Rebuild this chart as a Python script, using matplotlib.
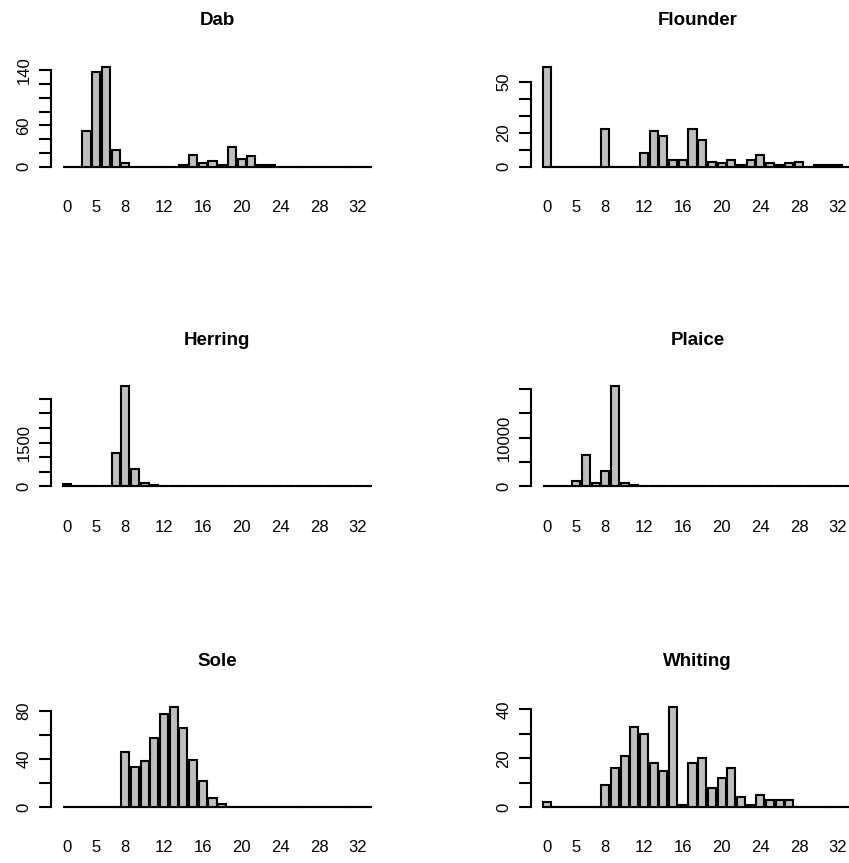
import matplotlib
matplotlib.use("Agg")
import matplotlib.pyplot as plt
import numpy as np

plt.rcParams['font.family'] = ['Liberation Sans', 'DejaVu Sans']

# length classes (bar names)
categories = [0, 3, 4, 5, 6, 7, 8, 9, 10, 11, 12, 13, 14, 15, 16, 17, 18, 19,
              20, 21, 22, 23, 24, 25, 26, 27, 28, 29, 30, 31, 32, 33]
shown_xlabels = [0, 5, 8, 12, 16, 20, 24, 28, 32]

species = ['Dab', 'Flounder', 'Herring', 'Plaice', 'Sole', 'Whiting']

dab = [0, 0, 52, 137, 145, 25, 6, 0, 0, 0, 0, 0, 2, 17, 5, 9, 3, 28, 11, 16,
       2, 2, 0, 0, 0, 0, 0, 0, 0, 0, 0, 0]
flounder = [59, 0, 0, 0, 0, 0, 22, 0, 0, 0, 8, 21, 18, 4, 4, 22, 16, 3, 2, 4,
            1, 4, 7, 2, 1, 2, 3, 0, 1, 1, 1, 0]
herring = [70, 0, 0, 0, 0, 1160, 3420, 590, 125, 50, 0, 0, 0, 0, 0, 0, 0, 0,
           0, 0, 0, 0, 0, 0, 0, 0, 0, 0, 0, 0, 0, 0]
plaice = [0, 0, 0, 1160, 6500, 620, 3080, 20550, 685, 340, 0, 0, 0, 0, 0, 0,
          0, 0, 0, 0, 0, 0, 0, 0, 0, 0, 0, 0, 0, 0, 0, 0]
sole = [0, 0, 0, 0, 0, 0, 46, 33, 38, 57, 77, 83, 66, 39, 22, 8, 3, 0, 0, 0,
        0, 0, 0, 0, 0, 0, 0, 0, 0, 0, 0, 0]
whiting = [2, 0, 0, 0, 0, 0, 9, 16, 21, 33, 30, 18, 15, 41, 1, 18, 20, 8, 12,
           16, 4, 1, 5, 3, 3, 3, 0, 0, 0, 0, 0, 0]
counts = [dab, flounder, herring, plaice, sole, whiting]

# y axis ticks and which labels R managed to draw
yticks = [[0, 20, 40, 60, 80, 100, 120, 140],
          [0, 10, 20, 30, 40, 50],
          [0, 500, 1000, 1500, 2000, 2500, 3000],
          [0, 5000, 10000, 15000, 20000],
          [0, 20, 40, 60, 80],
          [0, 10, 20, 30, 40]]
ylabels = [['0', '', '', '60', '', '', '', '140'],
           ['0', '', '20', '', '', '50'],
           ['0', '', '', '1500', '', '', ''],
           ['0', '', '10000', '', ''],
           ['0', '', '40', '', '80'],
           ['0', '', '20', '', '40']]

W, H = 849, 863
fig = plt.figure(figsize=(W / 100, H / 100), dpi=100)

# plot regions in pixels: left, top, width, height
col_left = [50.7, 530.7]
row_top = [62.6, 382.3, 703.0]
pw, ph = 333.3, 108.2

n = len(categories)
pos = 0.7 + 1.2 * np.arange(n)
xlo = 0.2 - 0.04 * (1.2 * n - 0.2)
xhi = 1.2 * n + 0.04 * (1.2 * n - 0.2)
lw = 1.5

for i, name in enumerate(species):
    r, c = divmod(i, 2)
    ax = fig.add_axes([col_left[c] / W, 1 - (row_top[r] + ph) / H, pw / W, ph / H])
    vals = counts[i]
    # zero-height bars show up as one continuous baseline in the original
    ax.plot([pos[0] - 0.5, pos[-1] + 0.5], [0, 0], color='black', lw=lw,
            solid_capstyle='butt', zorder=1)
    ax.bar(pos, vals, width=1, color='#bebebe', edgecolor='black', linewidth=lw,
           zorder=2)
    ymax = max(vals)
    ax.set_xlim(xlo, xhi)
    ax.set_ylim(-0.04 * ymax, 1.04 * ymax)

    ax.set_xticks([pos[categories.index(v)] for v in shown_xlabels])
    ax.set_xticklabels([str(v) for v in shown_xlabels], fontsize=12)
    ax.tick_params(axis='x', length=0, pad=21)

    ax.set_yticks(yticks[i])
    ax.set_yticklabels(ylabels[i], fontsize=12, rotation=90, va='center')
    ax.tick_params(axis='y', length=9, width=lw, pad=5)

    for s in ['top', 'right', 'bottom']:
        ax.spines[s].set_visible(False)
    ax.spines['left'].set_linewidth(lw)
    ax.spines['left'].set_bounds(0, yticks[i][-1])

    ax.set_title(name, fontsize=13.5, fontweight='bold', pad=27)

fig.savefig('out.png', dpi=100)
